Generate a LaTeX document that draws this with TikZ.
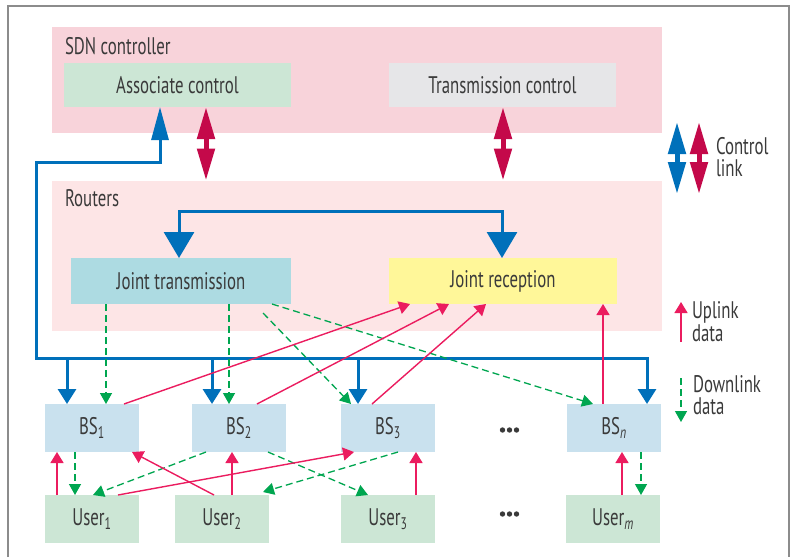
\documentclass[tikz,border=0pt]{standalone}
\usepackage{fontspec}
\setmainfont{PT Sans}[FakeStretch=0.70]
\usetikzlibrary{arrows.meta}

\definecolor{sdnpink}{HTML}{F8D3DA}
\definecolor{routerpink}{HTML}{FDE5E6}
\definecolor{softgreen}{HTML}{CCE6D5}
\definecolor{softgray}{HTML}{E6E6E8}
\definecolor{jtblue}{HTML}{ADDBE2}
\definecolor{jryellow}{HTML}{FFF799}
\definecolor{bsblue}{HTML}{C9E1EE}
\definecolor{ctrlblue}{HTML}{0070BA}
\definecolor{ctrlred}{HTML}{C4094A}
\definecolor{upred}{HTML}{EB1C5F}
\definecolor{downgreen}{HTML}{00A650}
\definecolor{textgray}{HTML}{3A3A3A}
\definecolor{framegray}{HTML}{8C8C8C}

\tikzset{
  panel/.style={inner sep=0pt, outer sep=0pt, draw=none},
  unit/.style={panel, text=textgray, minimum width=94pt, minimum height=48pt},
  plain/.style={inner sep=0pt, outer sep=0pt, text=textgray},
  lineone/.style={plain, anchor=base west, text depth=2pt},
  linetwo/.style={plain, anchor=base west, text height=12pt},
  bluebus/.style={draw=ctrlblue, line width=3pt},
  bsdrop/.style={bluebus, -{Triangle[length=15pt,width=18pt]}},
  bigblue/.style={bluebus, {Triangle[length=26pt,width=30pt]}-{Triangle[length=26pt,width=30pt]}},
  ctrlpair/.style={line width=5pt, {Triangle[length=32pt,width=17pt]}-{Triangle[length=32pt,width=17pt]}},
  uplink/.style={draw=upred, line width=1.4pt, -{Triangle[length=11pt,width=13pt]}},
  downlink/.style={draw=downgreen, line width=1.3pt, dash pattern=on 7pt off 4pt, -{Triangle[length=11pt,width=12pt]}},
}

\begin{document}
\begin{tikzpicture}[x=1pt, y=-1pt, font=\fontsize{24}{26}\selectfont]
\useasboundingbox (0,0) rectangle (799,557);
\fill[white] (0,0) rectangle (799,557);
\draw[framegray, line width=1.2pt] (8,557) -- (8,6) -- (789,6) -- (789,557);

% controller layer
\node[panel, fill=sdnpink, minimum width=610pt, minimum height=106pt] (sdn) at (357,80) {};
\node[plain, anchor=base west] (sdnlab) at (65,54) {SDN controller};
\node[panel, text=textgray, fill=softgreen, minimum width=227pt, minimum height=44pt] (assoc) at (177.5,85) {Associate control};
\node[panel, text=textgray, fill=softgray, minimum width=227pt, minimum height=44pt] (trans) at (502.5,85) {Transmission control};

% router layer
\node[panel, fill=routerpink, minimum width=610pt, minimum height=150pt] (routers) at (357,255.5) {};
\node[plain, anchor=base west] (routlab) at (65,206) {Routers};
\node[panel, text=textgray, fill=jtblue, minimum width=220pt, minimum height=46pt] (jt) at (181,281) {Joint transmission};
\node[panel, text=textgray, fill=jryellow, minimum width=228pt, minimum height=46pt] (jr) at (503,281) {Joint reception};

% base stations and users
\node[unit, fill=bsblue] (bs1) at (92,428) {BS\textsubscript{1}};
\node[unit, fill=bsblue] (bs2) at (239,428) {BS\textsubscript{2}};
\node[unit, fill=bsblue] (bs3) at (388,428) {BS\textsubscript{3}};
\node[unit, fill=bsblue] (bsn) at (614,428) {BS\textsubscript{\itshape n}};
\node[unit, fill=softgreen] (u1) at (92,519) {User\textsubscript{1}};
\node[unit, fill=softgreen] (u2) at (222,519) {User\textsubscript{2}};
\node[unit, fill=softgreen] (u3) at (388,519) {User\textsubscript{3}};
\node[unit, fill=softgreen] (um) at (613,519) {User\textsubscript{\itshape m}};

% ellipses between BS3/BSn and User3/Userm
\foreach \yy in {430,514} {
  \foreach \xx in {502.5,509.5,516.5} \fill[textgray] (\xx,\yy) circle (2.7pt);
}

% control links
\coordinate (busL) at (36,358);
\coordinate (upL) at (36,162);
\coordinate (assocIn) at ([xshift=96pt]assoc.south west);
\coordinate (d1) at ([xshift=22pt]bs1.north west);
\coordinate (d2) at ([xshift=20pt]bs2.north west);
\coordinate (d3) at ([xshift=17pt]bs3.north west);
\coordinate (d4) at ([xshift=80pt]bsn.north west);
\draw[bluebus, {Triangle[length=15pt,width=18pt]}-{Triangle[length=33pt,width=17pt]}]
  (d4) |- (busL) -- (upL) -| (assocIn);
\draw[bsdrop] (busL -| d1) -- (d1);
\draw[bsdrop] (busL -| d2) -- (d2);
\draw[bsdrop] (busL -| d3) -- (d3);

\coordinate (jtIn) at ([xshift=108pt]jt.north west);
\coordinate (jrIn) at ([xshift=113pt]jr.north west);
\draw[bigblue] (jtIn) -- ++(0,-47) -| (jrIn);

\draw[ctrlpair, ctrlred] ([xshift=142pt]assoc.south west) -- ([xshift=154pt]routers.north west);
\draw[ctrlpair, ctrlred] ([xshift=114pt]trans.south west) -- ([xshift=451pt]routers.north west);

% downlink data
\draw[downlink] ([xshift=35pt]jt.south west) -- ([xshift=61pt]bs1.north west);
\draw[downlink] ([xshift=158pt]jt.south west) -- ([xshift=37pt]bs2.north west);
\draw[downlink] ([xshift=192pt,yshift=-9pt]jt.south west) -- ([xshift=10pt]bs3.north west);
\draw[downlink] ([xshift=201pt]jt.south west) -- ([xshift=26pt]bsn.north west);
\draw[downlink] ([xshift=30pt]bs1.south west) -- ([xshift=30pt]u1.north west);
\draw[downlink] ([xshift=14pt]bs2.south west) -- ([xshift=48pt]u1.north west);
\draw[downlink] ([xshift=76pt]bs2.south west) -- ([xshift=27pt]u3.north west);
\draw[downlink] ([xshift=57pt]bs3.south west) -- ([xshift=88pt,yshift=3pt]u2.north west);
\draw[downlink] ([xshift=74pt]bsn.south west) -- ([xshift=75pt]um.north west);

% uplink data
\draw[uplink] ([xshift=79pt]bs1.north west) -- ([xshift=21pt]jr.south west);
\draw[uplink] ([xshift=65pt]bs2.north west) -- ([xshift=60pt]jr.south west);
\draw[uplink] ([xshift=31pt]bs3.north west) -- ([xshift=97pt]jr.south west);
\draw[uplink] ([xshift=36pt]bsn.north west) -- ([xshift=214pt]jr.south west);
\draw[uplink] ([xshift=12pt]u1.north west) -- ([xshift=12pt]bs1.south west);
\draw[uplink] ([xshift=73pt]u1.north west) -- ([xshift=13pt]bs3.south west);
\draw[uplink] ([xshift=39pt]u2.north west) -- ([xshift=87pt]bs1.south west);
\draw[uplink] ([xshift=57pt]u2.north west) -- ([xshift=40pt]bs2.south west);
\draw[uplink] ([xshift=75pt]u3.north west) -- ([xshift=75pt]bs3.south west);
\draw[uplink] ([xshift=56pt]um.north west) -- ([xshift=55pt]bsn.south west);

% legend
\coordinate (lgB1) at (677,122);
\coordinate (lgB2) at (677,194);
\coordinate (lgR1) at (699,122);
\coordinate (lgR2) at (699,194);
\draw[ctrlpair, ctrlblue] (lgB1) -- (lgB2);
\draw[ctrlpair, ctrlred] (lgR1) -- (lgR2);
\node[lineone] (lgctl1) at (716,154) {Control};
\node[linetwo] (lgctl2) at (716,176.5) {link};

\coordinate (lgU1) at (681,342);
\coordinate (lgU2) at (681,302);
\draw[uplink] (lgU1) -- (lgU2);
\node[lineone] (lgup1) at (692,318) {Uplink};
\node[linetwo] (lgup2) at (692,341.5) {data};

\coordinate (lgD1) at (681,378);
\coordinate (lgD2) at (681,422);
\draw[downlink] (lgD1) -- (lgD2);
\node[lineone] (lgdn1) at (693,392) {Downlink};
\node[linetwo] (lgdn2) at (693,414.5) {data};
\end{tikzpicture}
\end{document}
